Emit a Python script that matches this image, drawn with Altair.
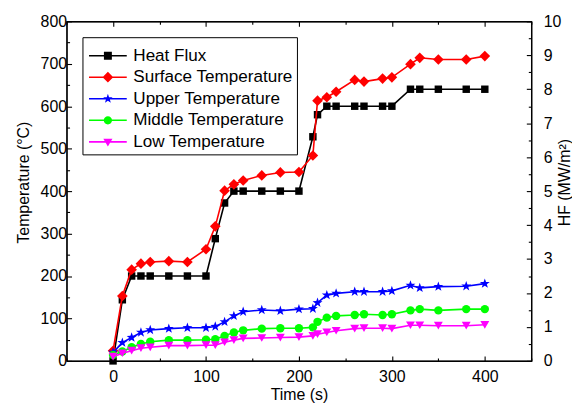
import altair as alt
import pandas as pd

# ---- data ----
time_s = [0, 10, 20, 30, 40, 60, 80, 100, 110, 120, 130, 140, 160, 180, 200,
          215, 220, 230, 240, 260, 270, 290, 300, 320, 330, 350, 380, 400]
heat_flux = [0, 1.8, 2.5, 2.5, 2.5, 2.5, 2.5, 2.5, 3.6, 4.65, 5, 5, 5, 5, 5,
             6.6, 7.25, 7.5, 7.5, 7.5, 7.5, 7.5, 7.5, 8, 8, 8, 8, 8]
surface = [24, 153, 215, 229, 233, 235, 233, 263, 317, 401, 416, 425, 437, 444, 445,
           484, 613, 621, 634, 662, 658, 665, 668, 699, 714, 710, 710, 718]
upper = [20, 43, 55, 67, 73, 76, 78, 78, 81, 92, 106, 116, 120, 118, 122,
         123, 137, 155, 159, 163, 163, 163, 165, 178, 172, 175, 176, 182]
middle = [14, 22, 32, 40, 45, 49, 49, 50, 51, 59, 67, 72, 76, 77, 77,
          79, 92, 102, 106, 108, 110, 108, 110, 119, 122, 119, 122, 122]
low = [10, 18, 24, 30, 32, 36, 36, 37, 37, 44, 49, 53, 54, 55, 56,
       59, 63, 67, 71, 76, 77, 77, 76, 84, 84, 83, 83, 85]

series_names = ["Heat Flux", "Surface Temperature", "Upper Temperature",
                "Middle Temperature", "Low Temperature"]
colors = ["#000000", "#FF0000", "#0000FF", "#00FF00", "#FF00FF"]
STAR = ("M0,-1L0.235,-0.324L0.951,-0.309L0.38,0.124L0.588,0.809L0,0.4"
        "L-0.588,0.809L-0.38,0.124L-0.951,-0.309L-0.235,-0.324Z")
shapes = ["square", "diamond", STAR, "circle", "triangle-down"]
sizes = [56, 115, 110, 72, 80]

# legend glyphs: a thin bar (the line) through the marker
LINE = "M-4.75,-0.2H4.75V0.2H-4.75Z"
legend_shapes = [
    LINE + "M-1,-1H1V1H-1Z",
    LINE + "M0,-1.35L1.35,0L0,1.35L-1.35,0Z",
    LINE + "M0,-1.25L0.29,-0.4L1.19,-0.39L0.48,0.15L0.73,1.01L0,0.5L-0.73,1.01L-0.48,0.15L-1.19,-0.39L-0.29,-0.4Z",
    LINE + "M1.05,0A1.05,1.05,0,1,1,-1.05,0A1.05,1.05,0,1,1,1.05,0Z",
    LINE + "M-1.15,-0.8H1.15L0,1.2Z",
]

temp_series = {"Surface Temperature": surface, "Upper Temperature": upper,
               "Middle Temperature": middle, "Low Temperature": low}
temp_df = pd.concat([
    pd.DataFrame({"t": time_s, "v": vals, "series": name})
    for name, vals in temp_series.items()
])
hf_df = pd.DataFrame({"t": time_s, "v": heat_flux, "series": "Heat Flux"})

FONT = "Liberation Sans"
x_ticks = list(range(-50, 451, 50))
y_ticks = list(range(0, 801, 50))
hf_ticks = [i / 2 for i in range(0, 21)]

legend = alt.Legend(
    title=" ", titleFontSize=5, titlePadding=1,
    orient="top-left", offset=16, padding=4, rowPadding=3.7,
    strokeColor="black", fillColor="white", cornerRadius=0,
    labelFont=FONT, labelFontSize=17.2, labelColor="black", labelLimit=400,
    symbolSize=64, symbolOffset=13, labelOffset=17, symbolStrokeWidth=0,
)

xscale = alt.Scale(domain=[-50, 450], nice=False, zero=False)
x_bottom = alt.X("t:Q", scale=xscale, axis=alt.Axis(
    orient="bottom", values=x_ticks, title="Time (s)",
    labelExpr="datum.value % 100 === 0 ? datum.label : ''",
    tickSize={"expr": "datum.value % 100 === 0 ? -5 : -3"},
    labelPadding=12.5, titlePadding=0, labelOverlap=False, labelFlush=False))
x_top = alt.X("t:Q", scale=xscale, axis=alt.Axis(
    orient="top", values=x_ticks, title=None, labels=False,
    tickSize={"expr": "datum.value % 100 === 0 ? -5 : -3"}))

y_left = alt.Y("v:Q", scale=alt.Scale(domain=[0, 800], nice=False), axis=alt.Axis(
    orient="left", values=y_ticks, title="Temperature (°C)",
    labelExpr="datum.value % 100 === 0 ? datum.label : ''",
    tickSize={"expr": "datum.value % 100 === 0 ? -5 : -3"},
    titleX=-43, titleY=162, titleAngle=270, titleAlign="center", titleBaseline="middle",
    labelPadding=5, labelOverlap=False, labelFlush=False))
y_right = alt.Y("v:Q", scale=alt.Scale(domain=[0, 10], nice=False), axis=alt.Axis(
    orient="right", values=hf_ticks, title="HF (MW/m²)",
    labelExpr="datum.value % 1 === 0 ? format(datum.value, 'd') : ''",
    tickSize={"expr": "datum.value % 1 === 0 ? -5 : -3"},
    titleX=33, titleY=162, titleAngle=270, titleAlign="center", titleBaseline="middle",
    labelPadding=17, labelOverlap=False, labelFlush=False))

# heat flux layer (right axis)
hf_line = alt.Chart(hf_df).mark_line(strokeWidth=1.6, color=colors[0]).encode(
    x=x_top, y=y_right)
hf_pts = alt.Chart(hf_df).mark_point(
    filled=True, opacity=1, shape=shapes[0], size=sizes[0], color=colors[0]
).encode(x=x_top, y=y_right)

# temperature layers (left axis)
t_layers = []
for i, name in enumerate(series_names[1:], start=1):
    base = alt.Chart(temp_df).transform_filter(alt.datum.series == name)
    t_layers.append(base.mark_line(strokeWidth=1.6, color=colors[i]).encode(
        x=x_bottom, y=y_left))
    t_layers.append(base.mark_point(
        filled=True, opacity=1, shape=shapes[i], size=sizes[i], color=colors[i]
    ).encode(x=x_bottom, y=y_left))

# legend-only layer (zero-size symbols)
legend_layer = alt.Chart(temp_df).mark_point(filled=True, opacity=1, size=0).encode(
    x=x_bottom, y=y_left,
    color=alt.Color("series:N", scale=alt.Scale(domain=series_names, range=colors),
                    legend=legend),
    shape=alt.Shape("series:N", scale=alt.Scale(domain=series_names, range=legend_shapes),
                    legend=legend),
)

chart = alt.layer(
    alt.layer(hf_line, hf_pts),
    alt.layer(legend_layer, *t_layers),
).resolve_scale(y="independent").properties(
    width=468, height=342,
    autosize=alt.AutoSizeParams(type="none"),
    padding={"left": 59, "top": 12, "right": 41, "bottom": 43},
).configure_view(stroke="black", strokeWidth=1.2).configure_axis(
    grid=False, labelFont=FONT, labelFontSize=16, labelColor="black",
    titleFont=FONT, titleFontSize=16, titleFontWeight="normal", titleColor="black",
    tickColor="black", tickWidth=1.1, domainColor="black", domainWidth=1.2,
)

chart.save("out.html", embed_options={"renderer": "svg", "actions": False})
